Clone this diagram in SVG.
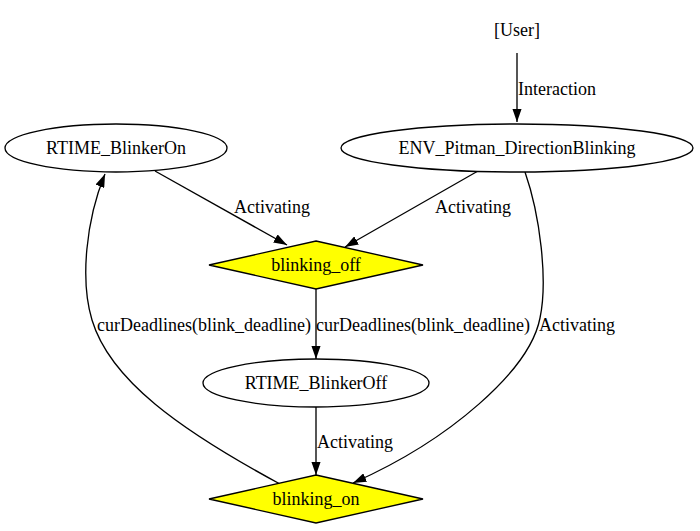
<svg xmlns="http://www.w3.org/2000/svg" width="700" height="531" viewBox="0 0 700 531" font-family="Liberation Serif, Times New Roman, DejaVu Serif, serif">
<defs>
<style>
text{font-family:'Liberation Serif','Times New Roman','DejaVu Serif',serif;font-size:18px;fill:#000}
.n{text-anchor:middle}
.shape{stroke:#000;stroke-width:1.33}
.ell{fill:#fff}
.dia{fill:#ffff00}
.e{fill:none;stroke:#000;stroke-width:1.33;marker-end:url(#ah)}
</style>
<marker id="ah" viewBox="0 0 13.33 9.33" refX="13.33" refY="4.67" markerWidth="13.33" markerHeight="9.33" markerUnits="userSpaceOnUse" orient="auto">
<path d="M0,0 L13.33,4.67 L0,9.33 z" fill="#000"/>
</marker>
</defs>
<rect width="700" height="531" fill="#fff"/>
<g id="connectors">
<path class="e" d="M517,53 L517,122"/>
<text x="518" y="95">Interaction</text>
<path class="e" d="M155,171 L287,245"/>
<text x="234" y="213">Activating</text>
<path class="e" d="M478,171 L345,247"/>
<text x="435" y="213">Activating</text>
<path class="e" d="M316,289 L316,359"/>
<text x="316" y="331">curDeadlines(blink_deadline)</text>
<path class="e" d="M316,407 L316,475"/>
<text x="317" y="448">Activating</text>
<path class="e" d="M525,172 C540,215 548,280 540,318 C530,370 450,440 353,483"/>
<text x="539" y="331">Activating</text>
<path class="e" d="M280,484 C180,430 110,380 92,320 C80,280 86,220 105,174"/>
<text x="97" y="331">curDeadlines(blink_deadline)</text>
</g>
<g id="User">
<text class="n" x="517" y="36">[User]</text>
</g>
<g id="ENV_Pitman_DirectionBlinking">
<ellipse class="shape ell" cx="517" cy="148" rx="176" ry="24"/>
<text class="n" x="517" y="154">ENV_Pitman_DirectionBlinking</text>
</g>
<g id="RTIME_BlinkerOn">
<ellipse class="shape ell" cx="116" cy="148" rx="111" ry="24"/>
<text class="n" x="116" y="154">RTIME_BlinkerOn</text>
</g>
<g id="blinking_off">
<polygon class="shape dia" points="316,241 423,265 316,289 209,265"/>
<text class="n" x="316" y="271">blinking_off</text>
</g>
<g id="RTIME_BlinkerOff">
<ellipse class="shape ell" cx="316" cy="383" rx="113" ry="24"/>
<text class="n" x="316" y="389">RTIME_BlinkerOff</text>
</g>
<g id="blinking_on">
<polygon class="shape dia" points="316,475 423,499 316,523 209,499"/>
<text class="n" x="316" y="505">blinking_on</text>
</g>
</svg>
